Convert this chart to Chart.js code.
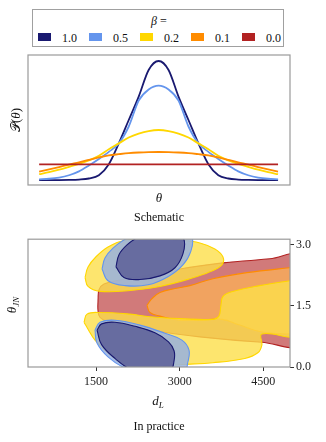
<!DOCTYPE html>
<html>
<head>
<meta charset="utf-8">
<script src="https://cdn.jsdelivr.net/npm/chart.js@4.4.1/dist/chart.umd.min.js"></script>
<style>
  body { margin: 0; background: #fff; }
  #wrap { position: relative; width: 326px; height: 442px; overflow: hidden; font-family: 'Liberation Serif', 'DejaVu Serif', serif; color: #111; }
  canvas { position: absolute; left: 0; }
  .t { position: absolute; transform: translate(-50%, -50%); white-space: nowrap; font-size: 12px; line-height: 1; }
  .rot { transform: translate(-50%, -50%) rotate(-90deg); }
  .ax { font-size: 13px; }
  #legend { position: absolute; left: 32px; top: 9px; width: 252px; height: 38px; border: 1px solid #a0a0a0; box-sizing: border-box; }
  .patch { position: absolute; width: 13px; height: 8px; top: 23px; }
  .lab { position: absolute; top: 22px; font-size: 12px; line-height: 1; }
</style>
</head>
<body>
<div id="wrap">
  <div id="legend"><div class="t" style="left:126px;top:11px;"><i>β</i> =</div></div>
  <canvas id="schematic" width="326" height="145" style="top:50px"></canvas>
  <canvas id="practice" width="326" height="160" style="top:230px"></canvas>

  <div class="t rot ax" style="left:15px;top:120px;">𝒫(<i>θ</i>)</div>
  <div class="t ax" style="left:159px;top:197px;"><i>θ</i></div>
  <div class="t" style="left:159px;top:217px;">Schematic</div>

  <div class="t rot ax" style="left:13px;top:305px;"><i>θ</i><sub style="font-size:9px"><i>JN</i></sub></div>
  <div class="t ax" style="left:158px;top:402px;"><i>d</i><sub style="font-size:9px"><i>L</i></sub></div>
  <div class="t" style="left:159px;top:426px;">In practice</div>
</div>

<script>
// legend
const betas = ['1.0', '0.5', '0.2', '0.1', '0.0'];
const colors = ['#191970', '#6495ed', '#ffd700', '#ff8c00', '#b22222'];
const fills = ['rgba(92,94,152,0.85)', 'rgba(152,178,226,0.85)', 'rgba(252,222,74,0.8)', 'rgba(250,174,90,0.8)', 'rgba(178,34,34,0.6)'];

// schematic curves
const theta = [-3, -2.75, -2.5, -2.25, -2, -1.75, -1.5, -1.25, -1, -0.75, -0.5, -0.25, 0,
               0.25, 0.5, 0.75, 1, 1.25, 1.5, 1.75, 2, 2.25, 2.5, 2.75, 3];
const p10 = [0.038, 0.038, 0.038, 0.039, 0.042, 0.05, 0.075, 0.16, 0.32, 0.5, 0.68, 0.885, 0.954,
             0.885, 0.68, 0.5, 0.32, 0.16, 0.075, 0.05, 0.042, 0.039, 0.038, 0.038, 0.038];
const p05 = [0.044, 0.048, 0.057, 0.075, 0.105, 0.15, 0.2, 0.255, 0.32, 0.45, 0.65, 0.735, 0.765,
             0.735, 0.65, 0.45, 0.32, 0.255, 0.2, 0.15, 0.105, 0.075, 0.057, 0.048, 0.044];
const p02 = [0.083, 0.099, 0.118, 0.14, 0.163, 0.19, 0.225, 0.275, 0.32, 0.365, 0.395, 0.415, 0.423,
             0.415, 0.395, 0.365, 0.32, 0.275, 0.225, 0.19, 0.163, 0.14, 0.118, 0.099, 0.083];
const p01 = [0.102, 0.12, 0.138, 0.157, 0.174, 0.193, 0.212, 0.228, 0.237, 0.245, 0.25, 0.253, 0.254,
             0.253, 0.25, 0.245, 0.237, 0.228, 0.212, 0.193, 0.174, 0.157, 0.138, 0.12, 0.102];
const p00 = [0.159, 0.159, 0.159, 0.159, 0.159, 0.159, 0.159, 0.159, 0.159, 0.159, 0.159, 0.159, 0.159,
             0.159, 0.159, 0.159, 0.159, 0.159, 0.159, 0.159, 0.159, 0.159, 0.159, 0.159, 0.159];

// contour outlines, [d_L, theta_JN]
const navyUpper = [[1858, 2.46], [1912, 2.76], [2056, 3.00], [2253, 3.19], [2557, 3.36], [2916, 3.39], [3077, 3.14],
                   [3059, 2.78], [2916, 2.44], [2647, 2.24], [2288, 2.15], [2002, 2.20], [1858, 2.46]];
const navyLower = [[1518, 0.91], [1600, 1.06], [1840, 1.10], [2200, 1.00], [2557, 0.84], [2800, 0.62], [2900, 0.40],
                   [2900, 0.15], [2830, -0.10], [2500, -0.20], [2109, -0.05], [1850, 0.20], [1600, 0.55], [1518, 0.91]];
const blueUpper = [[1608, 2.41], [1661, 2.68], [1805, 2.92], [2020, 3.14], [2378, 3.36], [3005, 3.41], [3220, 3.19],
                   [3202, 2.85], [3059, 2.51], [2790, 2.22], [2432, 2.02], [2020, 2.00], [1715, 2.12], [1608, 2.41]];
const blueLower = [[1482, 0.91], [1572, 1.10], [1840, 1.15], [2288, 1.03], [2736, 0.83], [3041, 0.66], [3167, 0.42],
                   [3149, 0.13], [3077, -0.11], [2468, -0.16], [2020, -0.02], [1715, 0.25], [1518, 0.59], [1482, 0.91]];
const yellowUpper = [[1303, 2.20], [1357, 2.46], [1500, 2.71], [1715, 2.95], [2002, 3.11], [2468, 3.15], [3005, 3.12],
                     [3364, 3.05], [3632, 2.90], [3776, 2.71], [3758, 2.51], [3543, 2.34], [3184, 2.17], [2647, 1.98],
                     [2109, 1.88], [1572, 1.86], [1357, 1.98], [1303, 2.20]];
const yellowLower = [[1285, 1.10], [1339, 1.30], [1572, 1.34], [2109, 1.30], [2468, 1.235], [3005, 1.19], [3579, 1.17],
                     [3704, 1.25], [3740, 1.51], [3776, 1.73], [3937, 1.85], [4439, 2.00], [4976, 2.12], [5156, 2.15],
                     [5156, 0.81], [4475, 0.81], [4475, 0.54], [4403, 0.35], [4170, 0.21], [3597, 0.105], [3005, 0.056],
                     [2647, 0.007], [2288, -0.114], [2020, 0.03], [1751, 0.30], [1482, 0.66], [1357, 0.93], [1285, 1.10]];
const orange = [[2414, 1.52], [2504, 1.68], [2647, 1.83], [2916, 1.93], [3184, 2.00], [3597, 2.17], [4206, 2.32],
                [4976, 2.44], [5156, 2.46], [5156, 0.81], [4976, 0.81], [4475, 0.86], [4080, 1.03], [3758, 1.17],
                [3364, 1.15], [3005, 1.15], [2647, 1.25], [2468, 1.34], [2414, 1.52]];
const red = [[1536, 1.64], [1554, 1.90], [1643, 2.04], [1930, 2.14], [2468, 2.26], [3005, 2.41], [3776, 2.56],
             [4206, 2.61], [4618, 2.66], [5156, 2.71], [5156, 0.59], [4475, 0.61], [3364, 0.74], [2468, 0.91],
             [1751, 1.10], [1572, 1.22], [1536, 1.39], [1536, 1.64]];

const xTicks = [1500, 3000, 4500];
const yTicks = [0, 1.5, 3.0];

// legend entries
const leg = document.getElementById('legend');
betas.forEach((b, i) => {
  const p = document.createElement('div');
  p.className = 'patch';
  p.style.left = (5 + i * 51) + 'px';
  p.style.background = colors[i];
  leg.appendChild(p);
  const l = document.createElement('div');
  l.className = 'lab';
  l.style.left = (29 + i * 51) + 'px';
  l.textContent = b;
  leg.appendChild(l);
});

const serif = "'Liberation Serif', 'DejaVu Serif', serif";

const frame = {
  id: 'frame',
  afterDatasetsDraw(chart) {
    const a = chart.chartArea, ctx = chart.ctx;
    ctx.save();
    ctx.strokeStyle = '#9a9a9a';
    ctx.lineWidth = 1.2;
    ctx.strokeRect(a.left, a.top, a.right - a.left, a.bottom - a.top);
    ctx.restore();
  }
};

// fill closed outlines under their own line
const shapeFill = {
  id: 'shapeFill',
  beforeDatasetDraw(chart, args) {
    const ds = chart.data.datasets[args.index];
    if (!ds.shape) return;
    const ctx = chart.ctx, a = chart.chartArea;
    ctx.save();
    ctx.beginPath();
    ctx.rect(a.left, a.top, a.right - a.left, a.bottom - a.top);
    ctx.clip();
    ctx.beginPath();
    args.meta.dataset.path(ctx);
    ctx.closePath();
    ctx.fillStyle = ds.backgroundColor;
    ctx.fill();
    ctx.restore();
  }
};

const curves = [p10, p05, p02, p01, p00];
new Chart(document.getElementById('schematic'), {
  type: 'scatter',
  data: {
    datasets: curves.map((c, i) => ({
      data: theta.map((t, j) => ({ x: t, y: c[j] })),
      showLine: true,
      borderColor: colors[i],
      borderWidth: 1.8,
      pointRadius: 0,
      cubicInterpolationMode: 'monotone',
      order: 4 - i,
      clip: 0
    }))
  },
  options: {
    responsive: false,
    animation: false,
    events: [],
    layout: { padding: { left: 28, right: 36, top: 5, bottom: 10 } },
    plugins: { legend: { display: false }, tooltip: { enabled: false } },
    scales: {
      x: { type: 'linear', min: -3.28, max: 3.3, display: false },
      y: { min: 0, max: 1, display: false }
    }
  },
  plugins: [frame]
});

const regions = [
  [navyUpper, 0], [navyLower, 0], [blueUpper, 1], [blueLower, 1],
  [yellowUpper, 2], [yellowLower, 2], [orange, 3], [red, 4]
];
new Chart(document.getElementById('practice'), {
  type: 'scatter',
  data: {
    datasets: regions.map(([pts, k]) => ({
      data: pts.map(p => ({ x: p[0], y: p[1] })),
      shape: true,
      showLine: true,
      tension: 0.4,
      capBezierPoints: false,
      borderColor: colors[k],
      backgroundColor: fills[k],
      borderWidth: 1.1,
      pointRadius: 0,
      clip: 0
    }))
  },
  options: {
    responsive: false,
    animation: false,
    events: [],
    layout: { padding: { left: 28, right: 0, top: 7, bottom: 0 } },
    plugins: { legend: { display: false }, tooltip: { enabled: false } },
    scales: {
      x: {
        type: 'linear', min: 280, max: 4980,
        afterBuildTicks: s => { s.ticks = xTicks.map(v => ({ value: v })); },
        afterFit: s => { s.height = 23; },
        grid: { drawOnChartArea: false, drawTicks: true, tickLength: 4, tickColor: '#333' },
        border: { display: false },
        ticks: { autoSkip: false, maxRotation: 0, padding: 4, color: '#222', font: { family: serif, size: 12 },
                 callback: v => String(v) }
      },
      y: {
        position: 'right', min: 0, max: Math.PI,
        afterBuildTicks: s => { s.ticks = yTicks.map(v => ({ value: v })); },
        afterFit: s => { s.width = 36; },
        grid: { drawOnChartArea: false, drawTicks: true, tickLength: 4, tickColor: '#333' },
        border: { display: false },
        ticks: { padding: 2, color: '#222', font: { family: serif, size: 12 }, callback: v => v.toFixed(1) }
      }
    }
  },
  plugins: [shapeFill, frame]
});
</script>
</body>
</html>
